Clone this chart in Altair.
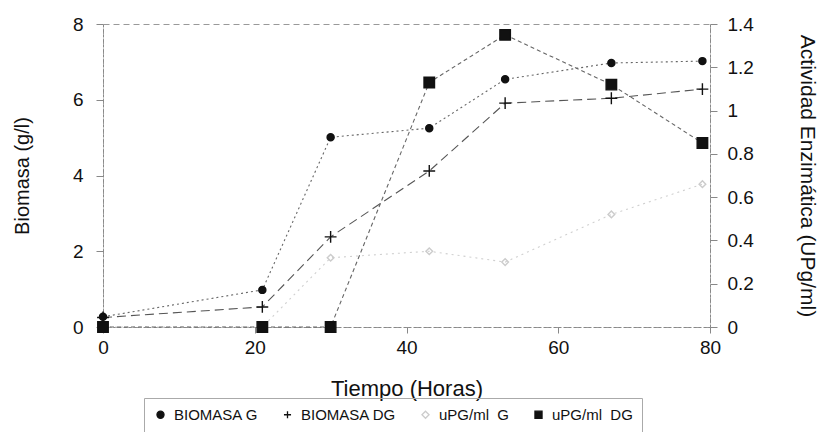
import altair as alt
import pandas as pd

tiempo = [0, 21, 30, 43, 53, 67, 79]
biomasa_g = [0.27, 0.98, 5.01, 5.25, 6.54, 6.97, 7.02]
biomasa_dg = [0.25, 0.53, 2.38, 4.12, 5.91, 6.04, 6.28]
upg_g = [0.0, 0.0, 0.32, 0.35, 0.30, 0.52, 0.66]
upg_dg = [0.0, 0.0, 0.0, 1.13, 1.35, 1.12, 0.85]

series = ["BIOMASA G", "BIOMASA DG", "uPG/ml\u00a0 G", "uPG/ml\u00a0 DG"]
marker_sizes = [50, 140, 45, 110]
x_ticks = [0, 20, 40, 60, 80]
bio_ticks = [0, 2, 4, 6, 8]
act_ticks = [0, 0.2, 0.4, 0.6, 0.8, 1.0, 1.2, 1.4]

rows = []
for name, vals, eje in [(series[0], biomasa_g, "bio"), (series[1], biomasa_dg, "bio"),
                        (series[2], upg_g, "act"), (series[3], upg_dg, "act")]:
    for t, v in zip(tiempo, vals):
        rows.append({"tiempo": t, "valor": v, "serie": name, "eje": eje})
df = pd.DataFrame(rows)

FONT = "Liberation Sans"

x_enc = alt.X("tiempo:Q", scale=alt.Scale(domain=[0, 80], nice=False),
              axis=alt.Axis(title="Tiempo (Horas)", values=x_ticks, titleFontSize=22,
                            titlePadding=21, labelFontSize=19, tickSize=6, labelPadding=5,
                            labelFlush=False, domainDash=[3, 2]))

y_bio = alt.Y("valor:Q", scale=alt.Scale(domain=[0, 8], nice=False),
              axis=alt.Axis(title="Biomasa (g/l)", orient="left", values=bio_ticks,
                            labelFontSize=19, titleFontSize=20, tickSize=7, labelPadding=13,
                            titlePadding=40, domainDash=[3, 2]))
y_act = alt.Y("valor:Q", scale=alt.Scale(domain=[0, 1.4], nice=False),
              axis=alt.Axis(title="Actividad Enzimática (UPg/ml)", orient="right",
                            values=act_ticks, format="~g", labelFontSize=19, titleFontSize=21,
                            tickSize=7, labelPadding=10, titlePadding=43, titleAngle=90,
                            domainDash=[3, 2]))

shape_scale = alt.Scale(domain=series, range=["circle", "M-1,0L1,0M0,-1L0,1", "diamond", "square"])
fill_scale = alt.Scale(domain=series, range=["#111111", "transparent", "transparent", "#111111"])
stroke_scale = alt.Scale(domain=series, range=["#111111", "#111111", "#cccccc", "#111111"])

legend = alt.Legend(title=None, orient="none", legendX=41, legendY=374, direction="horizontal",
                    columns=4, labelFontSize=15, columnPadding=21, strokeColor="#aaaaaa",
                    padding=9, symbolStrokeWidth=1.3, labelOffset=6)

def points(name, y):
    return alt.Chart(df[df["serie"] == name]).mark_point(
        filled=False, strokeWidth=1.4, opacity=1, size=marker_sizes[series.index(name)]).encode(
        x=x_enc, y=y,
        shape=alt.Shape("serie:N", scale=shape_scale, legend=legend),
        fill=alt.Fill("serie:N", scale=fill_scale, legend=legend),
        stroke=alt.Stroke("serie:N", scale=stroke_scale, legend=legend),
    )

def line(name, color, dash, y, width=1.1):
    return alt.Chart(df[df["serie"] == name]).mark_line(
        color=color, strokeDash=dash, strokeWidth=width).encode(x=x_enc, y=y)

left = alt.layer(
    line(series[0], "#666666", [2, 3], y_bio),
    line(series[1], "#555555", [9, 5], y_bio),
    points(series[0], y_bio),
    points(series[1], y_bio),
)
right = alt.layer(
    line(series[2], "#d0d0d0", [2, 4], y_act),
    line(series[3], "#666666", [4, 3], y_act),
    points(series[2], y_act),
    points(series[3], y_act),
)

chart = alt.layer(left, right).resolve_scale(y="independent").properties(
    width=607, height=303,
    autosize=alt.AutoSizeParams(type="none"),
    padding={"left": 103, "top": 24, "right": 117, "bottom": 105},
).configure(
    font=FONT,
).configure_axis(
    labelFont=FONT, titleFont=FONT, labelColor="#111111", titleColor="#111111",
    titleFontWeight="normal", domainColor="#888888", tickColor="#888888", grid=False,
).configure_legend(
    labelFont=FONT, labelColor="#111111", symbolSize=50,
).configure_view(
    stroke="#999999", strokeDash=[6, 4], strokeWidth=1,
).configure_text(font=FONT)

chart.save("out.html", embed_options={"renderer": "svg", "actions": False})
